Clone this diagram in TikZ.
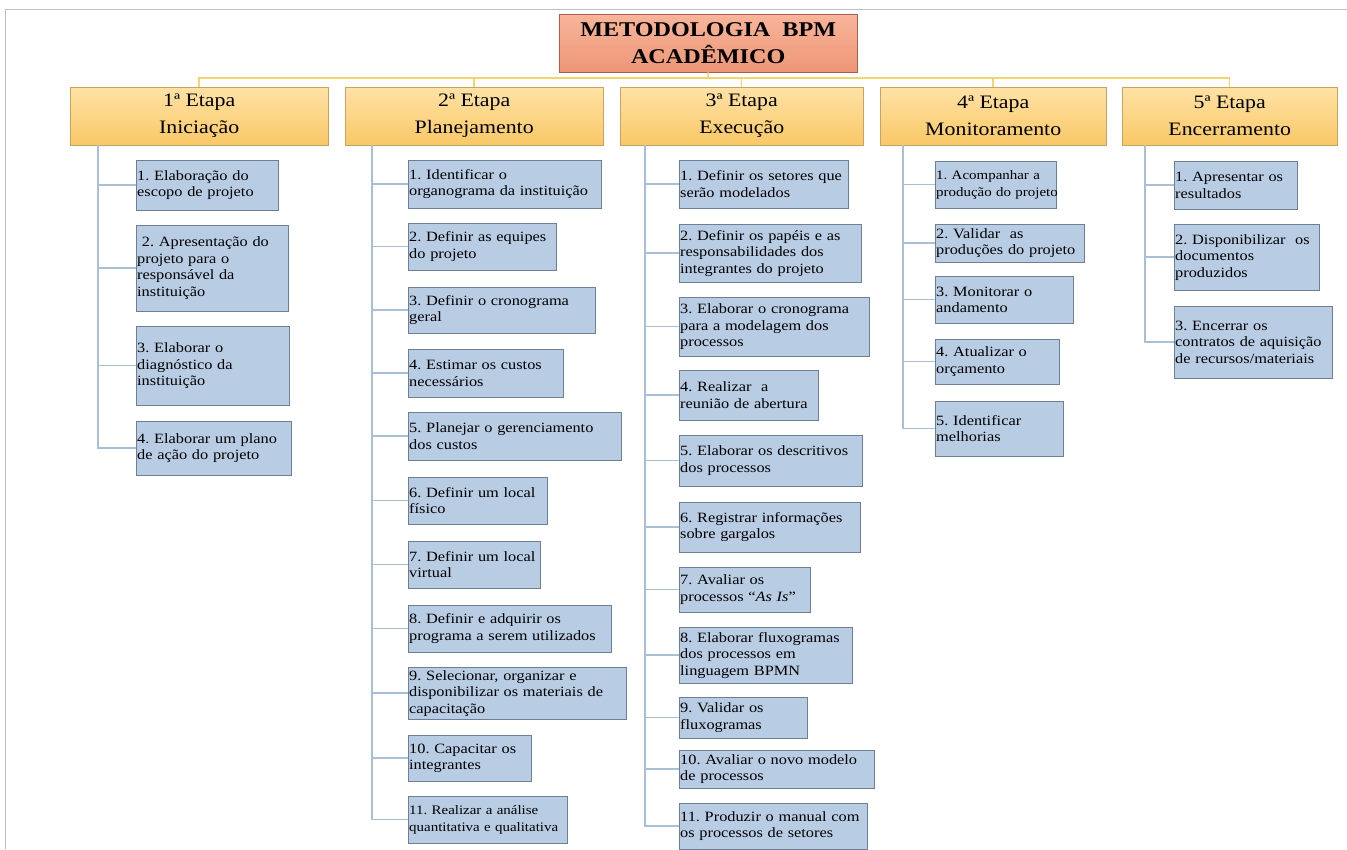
\documentclass[tikz,border=0pt]{standalone}
\usepackage{fontspec}
\setmainfont{Liberation Serif}[FakeStretch=1.15]
\hyphenpenalty=10000
\frenchspacing
\hfuzz=20pt
\definecolor{titletop}{HTML}{F7B59A}
\definecolor{titlebot}{HTML}{EE9677}
\definecolor{titleline}{HTML}{A8604E}
\definecolor{etapatop}{HTML}{FFE2A6}
\definecolor{etapabot}{HTML}{F9C867}
\definecolor{etapaline}{HTML}{C9A461}
\definecolor{tarefafill}{HTML}{B8CCE4}
\definecolor{tarefaline}{HTML}{6E7E94}
\definecolor{ramoline}{HTML}{A9BFD3}
\definecolor{troncoline}{HTML}{F3D46E}
\tikzset{
  titlebox/.style={draw=titleline, top color=titletop, bottom color=titlebot, anchor=north west, align=center, inner sep=0pt, font=\fontsize{21}{27}\selectfont\bfseries},
  etapa/.style={draw=etapaline, top color=etapatop, bottom color=etapabot, anchor=north west, align=center, inner sep=0pt, minimum height=58pt, font=\fontsize{19}{27}\selectfont},
  tarefa/.style={draw=tarefaline, fill=tarefafill, anchor=north west, align=left, inner xsep=1pt, inner ysep=0pt, font=\fontsize{14.2}{16.5}\selectfont},
  ramo/.style={draw=ramoline, line width=1.5pt},
  tronco/.style={draw=troncoline, line width=1.5pt}
}
\begin{document}
\begin{tikzpicture}[x=1pt,y=-1pt]
\useasboundingbox (0,0) rectangle (1347,849);
\draw[black!25] (5,849) -- (5,9) -- (1347,9);
% titulo e etapas
\node[titlebox, minimum width=298pt, minimum height=58pt] (t) at (559,14) {METODOLOGIA\ \ BPM\\ACADÊMICO};
\node[etapa, minimum width=258pt] (e1) at (70,87) {1ª Etapa\\Iniciação};
\node[etapa, minimum width=258pt] (e2) at (345,87) {2ª Etapa\\Planejamento};
\node[etapa, minimum width=243pt] (e3) at (620,87) {3ª Etapa\\Execução};
\node[etapa, minimum width=226pt] (e4) at (880,87) {4ª Etapa\\Monitoramento};
\node[etapa, minimum width=215pt] (e5) at (1122,87) {5ª Etapa\\Encerramento};
\coordinate (h) at (708,78);
\path[tronco] (t.south) -- (h);
\path[tronco] (h) -| (e1.north);
\path[tronco] (h) -| (e2.north);
\path[tronco] (h) -| (e3.north);
\path[tronco] (h) -| (e4.north);
\path[tronco] (h) -| (e5.north);
% 1a etapa
\node[tarefa, text width=140pt, minimum height=50pt] (i1) at (136,160) {1. Elaboração do\\escopo de projeto};
\node[tarefa, text width=150pt, minimum height=86pt] (i2) at (136,225) {\ 2. Apresentação do\\projeto para o\\responsável da\\instituição};
\node[tarefa, text width=151pt, minimum height=79pt] (i3) at (136,326) {3. Elaborar o\\diagnóstico da\\instituição};
\node[tarefa, text width=153pt, minimum height=54pt] (i4) at (136,421) {4. Elaborar um plano\\de ação do projeto};
\coordinate (r1) at (98,145);
\path[ramo] (r1) |- (i1.west);
\path[ramo] (r1) |- (i2.west);
\path[ramo] (r1) |- (i3.west);
\path[ramo] (r1) |- (i4.west);
% 2a etapa
\node[tarefa, text width=191pt, minimum height=48pt] (p1) at (408,160) {1. Identificar o\\organograma da instituição};
\node[tarefa, text width=146pt, minimum height=47pt] (p2) at (408,223) {2. Definir as equipes\\do projeto};
\node[tarefa, text width=185pt, minimum height=46pt] (p3) at (408,287) {3. Definir o cronograma\\geral};
\node[tarefa, text width=153pt, minimum height=48pt] (p4) at (408,349) {4. Estimar os custos\\necessários};
\node[tarefa, text width=211pt, minimum height=48pt] (p5) at (408,412) {5. Planejar o gerenciamento\\dos custos};
\node[tarefa, text width=137pt, minimum height=47pt] (p6) at (408,477) {6. Definir um local\\físico};
\node[tarefa, text width=130pt, minimum height=47pt] (p7) at (408,541) {7. Definir um local\\virtual};
\node[tarefa, text width=201pt, minimum height=47pt] (p8) at (408,605) {8. Definir e adquirir os\\programa a serem utilizados};
\node[tarefa, text width=216pt, minimum height=52pt] (p9) at (408,667) {9. Selecionar, organizar e\\disponibilizar os materiais de\\capacitação};
\node[tarefa, text width=121pt, minimum height=46pt] (p10) at (408,735) {10. Capacitar os\\integrantes};
\node[tarefa, text width=157pt, minimum height=47pt, font=\fontsize{13}{16.5}\selectfont] (p11) at (408,796) {11. Realizar a análise\\quantitativa~e~qualitativa};
\coordinate (r2) at (372,145);
\foreach \n in {p1,p2,p3,p4,p5,p6,p7,p8,p9,p10,p11}
  \path[ramo] (r2) |- (\n.west);
% 3a etapa
\node[tarefa, text width=167pt, minimum height=48pt] (x1) at (679,160) {1. Definir os setores que\\serão modelados};
\node[tarefa, text width=180pt, minimum height=58pt] (x2) at (679,224) {2. Definir os papéis e as\\responsabilidades dos\\integrantes do projeto};
\node[tarefa, text width=188pt, minimum height=59pt] (x3) at (679,297) {3. Elaborar o cronograma\\para a modelagem dos\\processos};
\node[tarefa, text width=137pt, minimum height=50pt] (x4) at (679,370) {4. Realizar\ \ a\\reunião de abertura};
\node[tarefa, text width=181pt, minimum height=51pt] (x5) at (679,435) {5. Elaborar os descritivos\\dos processos};
\node[tarefa, text width=179pt, minimum height=50pt] (x6) at (679,502) {6. Registrar informações\\sobre gargalos};
\node[tarefa, text width=129pt, minimum height=45pt] (x7) at (679,567) {7. Avaliar os\\processos “\textit{As Is}”};
\node[tarefa, text width=171pt, minimum height=56pt] (x8) at (679,627) {8. Elaborar fluxogramas\\dos processos em\\linguagem BPMN};
\node[tarefa, text width=126pt, minimum height=41pt] (x9) at (679,697) {9. Validar os\\fluxogramas};
\node[tarefa, text width=193pt, minimum height=38pt] (x10) at (679,750) {10. Avaliar o novo modelo\\de processos};
\node[tarefa, text width=186pt, minimum height=46pt] (x11) at (679,803) {11. Produzir o manual com\\os processos de setores};
\coordinate (r3) at (645,145);
\foreach \n in {x1,x2,x3,x4,x5,x6,x7,x8,x9,x10,x11}
  \path[ramo] (r3) |- (\n.west);
% 4a etapa
\node[tarefa, text width=119pt, minimum height=47pt, font=\fontsize{13}{16.5}\selectfont] (m1) at (935,161) {1. Acompanhar a\\produção~do~projeto};
\node[tarefa, text width=147pt, minimum height=38pt] (m2) at (935,224) {2. Validar\ \ as\\produções do projeto};
\node[tarefa, text width=136pt, minimum height=47pt] (m3) at (935,276) {3. Monitorar o\\andamento};
\node[tarefa, text width=122pt, minimum height=45pt] (m4) at (935,339) {4. Atualizar o\\orçamento};
\node[tarefa, text width=126pt, minimum height=55pt] (m5) at (935,401) {5. Identificar\\melhorias};
\coordinate (r4) at (903,145);
\foreach \n in {m1,m2,m3,m4,m5}
  \path[ramo] (r4) |- (\n.west);
% 5a etapa
\node[tarefa, text width=121pt, minimum height=48pt] (f1) at (1174,161) {1. Apresentar os\\resultados};
\node[tarefa, text width=143pt, minimum height=66pt] (f2) at (1174,224) {2. Disponibilizar\ \ os\\documentos\\produzidos};
\node[tarefa, text width=156pt, minimum height=72pt] (f3) at (1174,306) {3. Encerrar os\\contratos de aquisição\\de recursos/materiais};
\coordinate (r5) at (1145,145);
\foreach \n in {f1,f2,f3}
  \path[ramo] (r5) |- (\n.west);
\end{tikzpicture}
\end{document}
